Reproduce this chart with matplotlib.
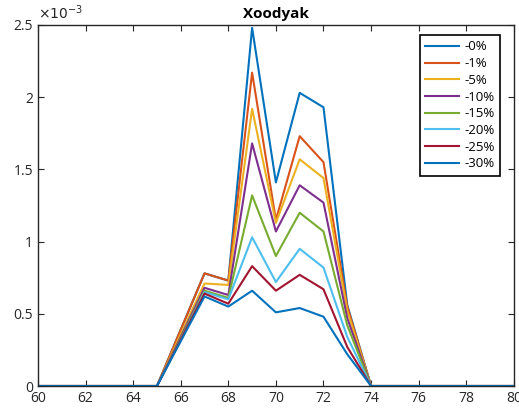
import matplotlib
matplotlib.use("Agg")
import matplotlib.pyplot as plt
from matplotlib.ticker import FuncFormatter

plt.rcParams['font.family'] = ['Open Sans', 'DejaVu Sans']

# x positions (integer steps) and values in units of 1e-3
x = list(range(60, 81))
labels = ["-0%", "-1%", "-5%", "-10%", "-15%", "-20%", "-25%", "-30%"]
colors = ["#0072BD", "#D95319", "#EDB120", "#7E2F8E",
          "#77AC30", "#4DBEEE", "#A2142F", "#0072BD"]

zeros_head = [0, 0, 0, 0, 0, 0]   # 60..65
zeros_tail = [0, 0, 0, 0, 0, 0, 0]  # 74..80

# 66..73
peak_0 = [0.39, 0.78, 0.73, 2.48, 1.41, 2.03, 1.93, 0.56]
peak_1 = [0.39, 0.78, 0.73, 2.17, 1.15, 1.73, 1.55, 0.55]
peak_5 = [0.36, 0.71, 0.70, 1.92, 1.13, 1.57, 1.44, 0.52]
peak_10 = [0.34, 0.68, 0.63, 1.68, 1.07, 1.39, 1.27, 0.47]
peak_15 = [0.33, 0.66, 0.61, 1.32, 0.90, 1.20, 1.07, 0.42]
peak_20 = [0.32, 0.65, 0.60, 1.03, 0.72, 0.95, 0.82, 0.34]
peak_25 = [0.32, 0.64, 0.57, 0.83, 0.66, 0.77, 0.67, 0.27]
peak_30 = [0.31, 0.62, 0.55, 0.66, 0.51, 0.54, 0.48, 0.22]

series = [peak_0, peak_1, peak_5, peak_10, peak_15, peak_20, peak_25, peak_30]

fig = plt.figure(figsize=(5.19, 4.11), dpi=100)
ax = fig.add_axes([0.0732, 0.0608, 0.9168, 0.8784])

for vals, lab, col in zip(series, labels, colors):
    y = [v * 1e-3 for v in zeros_head + vals + zeros_tail]
    ax.plot(x, y, color=col, lw=1.5, label=lab)

ax.set_xlim(60, 80)
ax.set_ylim(0, 2.5e-3)
ax.set_xticks(range(60, 81, 2))
ax.set_yticks([0, 0.5e-3, 1e-3, 1.5e-3, 2e-3, 2.5e-3])
ax.yaxis.set_major_formatter(FuncFormatter(lambda v, p: f"{v * 1e3:g}"))
ax.tick_params(direction="in", top=True, right=True, length=4,
               labelsize=10, colors="#262626", width=0.8)
for s in ax.spines.values():
    s.set_color("#262626")
    s.set_linewidth(1.0)

ax.text(0.0, 1.005, r"$\times10^{-3}$", transform=ax.transAxes,
        fontsize=10, color="#262626", ha="left", va="bottom")
ax.set_title("Xoodyak", fontsize=11, fontweight="bold", pad=5)

leg = ax.legend(loc="upper right", bbox_to_anchor=(0.985, 0.99),
                fontsize=9.5, fancybox=False, framealpha=1,
                edgecolor="black", handlelength=2.6, handletextpad=0.4,
                labelspacing=0.28, borderpad=0.4)
leg.get_frame().set_linewidth(1.2)

fig.savefig("out.png", dpi=100)
